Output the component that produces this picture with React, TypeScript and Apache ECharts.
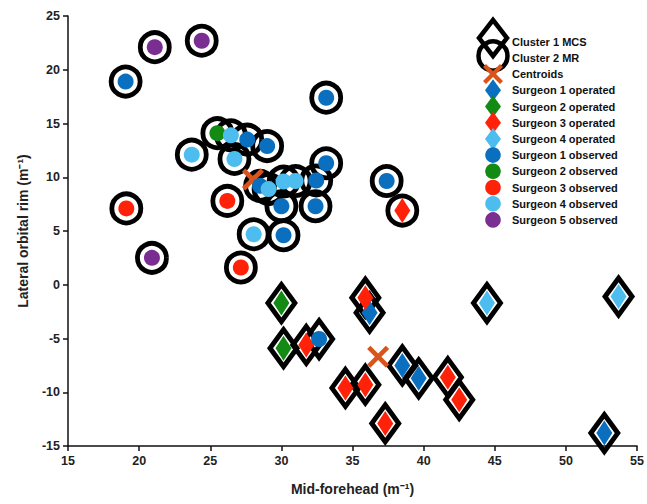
import React, { useEffect, useRef } from "react";
import * as echarts from "echarts";

// [x, y, cluster]  cluster 1 = MCS (diamond ring), 2 = MR (circle ring)
const surgeon1Operated = [[36.2, -2.6, 1], [38.5, -7.5, 1], [39.65, -8.7, 1], [52.7, -13.8, 1]];
const surgeon2Operated = [[30.0, -1.7, 1], [30.15, -5.9, 1]];
const surgeon3Operated = [[35.9, -1.2, 1], [31.75, -5.6, 1], [34.5, -9.6, 1], [35.9, -9.3, 1], [37.3, -12.9, 1], [41.7, -8.6, 1], [42.5, -10.7, 1], [38.5, 6.9, 2]];
const surgeon4Operated = [[44.45, -1.7, 1], [53.7, -1.1, 1]];
const surgeon1Observed = [[19.05, 18.9, 2], [33.15, 17.4, 2], [27.6, 13.5, 2], [29.0, 12.9, 2], [33.15, 11.3, 2], [28.5, 9.2, 2], [32.45, 9.7, 2], [30.0, 7.3, 2], [32.4, 7.3, 2], [30.15, 4.6, 2], [37.4, 9.65, 2], [32.65, -5.05, 1]];
const surgeon2Observed = [[25.5, 14.1, 2]];
const surgeon3Observed = [[19.1, 7.1, 2], [26.2, 7.8, 2], [27.15, 1.6, 2]];
const surgeon4Observed = [[23.7, 12.1, 2], [26.45, 13.9, 2], [26.7, 11.7, 2], [29.1, 8.9, 2], [30.15, 9.6, 2], [31.0, 9.65, 2], [28.05, 4.7, 2]];
const surgeon5Observed = [[21.1, 22.1, 2], [24.4, 22.7, 2], [20.9, 2.5, 2]];
const centroids = [[28.0, 9.8], [36.8, -6.7]];

const xMin = 15, xMax = 55, xStep = 5;
const yMin = -15, yMax = 25, yStep = 5;

const COLORS = {
  s1: "#0a6fbf",
  s2: "#138a13",
  s3: "#ff2208",
  s4: "#4dbdef",
  s5: "#7a2e92",
  centroid: "#d9541a",
};

const groups = [
  { name: "Surgeon 1 operated", data: surgeon1Operated, color: COLORS.s1, op: true },
  { name: "Surgeon 2 operated", data: surgeon2Operated, color: COLORS.s2, op: true },
  { name: "Surgeon 3 operated", data: surgeon3Operated, color: COLORS.s3, op: true },
  { name: "Surgeon 4 operated", data: surgeon4Operated, color: COLORS.s4, op: true },
  { name: "Surgeon 1 observed", data: surgeon1Observed, color: COLORS.s1, op: false },
  { name: "Surgeon 2 observed", data: surgeon2Observed, color: COLORS.s2, op: false },
  { name: "Surgeon 3 observed", data: surgeon3Observed, color: COLORS.s3, op: false },
  { name: "Surgeon 4 observed", data: surgeon4Observed, color: COLORS.s4, op: false },
  { name: "Surgeon 5 observed", data: surgeon5Observed, color: COLORS.s5, op: false },
];

const X_PATH =
  "path://M0,1.5L1.5,0L5,3.5L8.5,0L10,1.5L6.5,5L10,8.5L8.5,10L5,6.5L1.5,10L0,8.5L3.5,5Z";

const FONT = "'Liberation Sans', Arial, sans-serif";

export default function App() {
  const ref = useRef<HTMLDivElement>(null);
  useEffect(() => {
    if (!ref.current) return;
    const chart = echarts.init(ref.current, undefined, { renderer: "svg" });
    const all = groups.flatMap((g) => g.data);
    const cluster1 = all.filter((p) => p[2] === 1).map((p) => [p[0], p[1]]);
    const cluster2 = all.filter((p) => p[2] === 2).map((p) => [p[0], p[1]]);

    const lx = 493;
    const ly0 = 41.7;
    const lstep = 16.2;
    const legendLabels = ["Cluster 1 MCS", "Cluster 2 MR", "Centroids", ...groups.map((g) => g.name)];
    const graphics: any[] = [];
    // cluster icons
    graphics.push({
      type: "polygon",
      z: 100,
      shape: { points: [[lx, 20], [lx + 14, 38], [lx, 56], [lx - 14, 38]] },
      style: { fill: "none", stroke: "#000", lineWidth: 4.5 },
    });
    graphics.push({
      type: "circle",
      z: 100,
      shape: { cx: lx, cy: 56, r: 14.5 },
      style: { fill: "none", stroke: "#000", lineWidth: 4.5 },
    });
    // centroid X
    const cx = lx, cy = ly0 + 2 * lstep, hs = 10;
    graphics.push({
      type: "polygon",
      z: 100,
      shape: {
        points: [
          [0, 1.5], [1.5, 0], [5, 3.5], [8.5, 0], [10, 1.5], [6.5, 5], [10, 8.5], [8.5, 10], [5, 6.5], [1.5, 10], [0, 8.5], [3.5, 5],
        ].map((p) => [cx - hs + p[0] * 2 * hs / 10, cy - hs + p[1] * 2 * hs / 10]),
      },
      style: { fill: COLORS.centroid },
    });
    groups.forEach((g, i) => {
      const y = ly0 + (i + 3) * lstep;
      if (g.op) {
        graphics.push({
          type: "polygon",
          z: 100,
          shape: { points: [[lx, y - 11], [lx + 8, y], [lx, y + 11], [lx - 8, y]] },
          style: { fill: g.color },
        });
      } else {
        graphics.push({
          type: "circle",
          z: 100,
          shape: { cx: lx, cy: y, r: 7.8 },
          style: { fill: g.color },
        });
      }
    });
    legendLabels.forEach((t, i) => {
      graphics.push({
        type: "text",
        z: 101,
        x: 512,
        y: ly0 + i * lstep,
        style: {
          text: t,
          font: `bold 11px ${FONT}`,
          fill: "#111",
          verticalAlign: "middle",
          align: "left",
        },
      });
    });

    const series: any[] = [
      {
        name: "Cluster 1 MCS",
        type: "scatter",
        data: cluster1,
        symbol: "diamond",
        symbolSize: [27, 37],
        z: 2,
        itemStyle: { color: "rgba(0,0,0,0)", borderColor: "#000", borderWidth: 5, opacity: 1 },
      },
      {
        name: "Cluster 2 MR",
        type: "scatter",
        data: cluster2,
        symbol: "circle",
        symbolSize: 29,
        z: 2,
        itemStyle: { color: "rgba(0,0,0,0)", borderColor: "#000", borderWidth: 4.8, opacity: 1 },
      },
      {
        name: "Centroids",
        type: "scatter",
        data: centroids,
        symbol: X_PATH,
        symbolSize: 22,
        z: 3,
        itemStyle: { color: COLORS.centroid, opacity: 1 },
      },
      ...groups.map((g) => ({
        name: g.name,
        type: "scatter",
        data: g.data.map((p) => [p[0], p[1]]),
        symbol: g.op ? "diamond" : "circle",
        symbolSize: g.op ? [16, 25] : 16,
        z: 4,
        itemStyle: { color: g.color, opacity: 1 },
      })),
    ];

    chart.setOption({
      animation: false,
      textStyle: { fontFamily: FONT },
      grid: { left: 68, right: 6, top: 16, bottom: 58, containLabel: false },
      xAxis: {
        type: "value",
        min: xMin,
        max: xMax,
        interval: xStep,
        name: "Mid-forehead (m⁻¹)",
        nameLocation: "middle",
        nameGap: 36,
        nameTextStyle: { fontSize: 14, fontWeight: "bold", color: "#222", fontFamily: FONT },
        axisLine: { onZero: false, lineStyle: { color: "#111", width: 1.5 } },
        axisTick: { inside: false, length: 5, lineStyle: { color: "#111", width: 1.5 } },
        axisLabel: { fontSize: 12.5, fontWeight: "bold", color: "#222", margin: 8, fontFamily: FONT },
        splitLine: { show: false },
      },
      yAxis: {
        type: "value",
        min: yMin,
        max: yMax,
        interval: yStep,
        name: "Lateral orbital rim (m⁻¹)",
        nameLocation: "middle",
        nameGap: 38,
        nameTextStyle: { fontSize: 14, fontWeight: "bold", color: "#222", fontFamily: FONT },
        axisLine: { show: true, onZero: false, lineStyle: { color: "#111", width: 1.5 } },
        axisTick: { show: true, inside: false, length: 5, lineStyle: { color: "#111", width: 1.5 } },
        axisLabel: { fontSize: 12.5, fontWeight: "bold", color: "#222", margin: 8, fontFamily: FONT },
        splitLine: { show: false },
      },
      series,
      graphic: graphics,
    });
    return () => chart.dispose();
  }, []);
  return <div ref={ref} style={{ width: 647, height: 504, position: "absolute", left: 0, top: 0, background: "#fff" }} />;
}
